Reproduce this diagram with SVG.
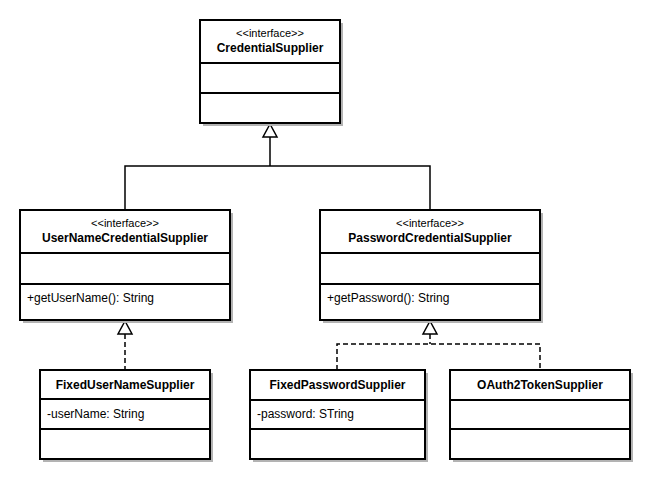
<svg xmlns="http://www.w3.org/2000/svg" width="658" height="488" viewBox="0 0 658 488">
<style>
.box{fill:#fff;stroke:#000;stroke-width:2}
.sh{fill:#b3b3b3}
.div{stroke:#000;stroke-width:2}
.st{font-family:"Liberation Sans",Arial,sans-serif;font-size:11px;fill:#000;text-anchor:middle}
.nm{font-family:"Liberation Sans",Arial,sans-serif;font-size:12px;font-weight:bold;fill:#000;text-anchor:middle}
.mb{font-family:"Liberation Sans",Arial,sans-serif;font-size:12px;fill:#000}
.ln{fill:none;stroke:#000;stroke-width:1.5}
.dash{stroke-dasharray:5,3}
.tri{fill:#fff;stroke:#000;stroke-width:1.5}
</style>
<rect width="658" height="488" fill="#fff"/>
<g id="connectors">
  <path class="ln" d="M270,137 V166 H125 V210 M270,166 H430 V210"/>
  <polygon class="tri" points="270,124 263,137 277,137"/>
  <path class="ln dash" d="M125,334 V370"/>
  <polygon class="tri" points="125,321 118,334 132,334"/>
  <path class="ln dash" d="M430,334 V344 M337,370 V344 H540 V370"/>
  <polygon class="tri" points="430,321 423,334 437,334"/>
</g>
<g id="CredentialSupplier">
  <rect class="sh" x="203" y="23" width="140" height="103"/>
  <rect class="box" x="200" y="20" width="140" height="103"/>
  <line class="div" x1="200" y1="63" x2="340" y2="63"/>
  <line class="div" x1="200" y1="93" x2="340" y2="93"/>
  <text class="st" x="270" y="37">&lt;&lt;interface&gt;&gt;</text>
  <text class="nm" x="270" y="52">CredentialSupplier</text>
</g>
<g id="UserNameCredentialSupplier">
  <rect class="sh" x="23" y="213" width="210" height="110"/>
  <rect class="box" x="20" y="210" width="210" height="110"/>
  <line class="div" x1="20" y1="253" x2="230" y2="253"/>
  <line class="div" x1="20" y1="284" x2="230" y2="284"/>
  <text class="st" x="125" y="227">&lt;&lt;interface&gt;&gt;</text>
  <text class="nm" x="125" y="242">UserNameCredentialSupplier</text>
  <text class="mb" x="27" y="302">+getUserName(): String</text>
</g>
<g id="PasswordCredentialSupplier">
  <rect class="sh" x="323" y="213" width="220" height="110"/>
  <rect class="box" x="320" y="210" width="220" height="110"/>
  <line class="div" x1="320" y1="253" x2="540" y2="253"/>
  <line class="div" x1="320" y1="284" x2="540" y2="284"/>
  <text class="st" x="430" y="227">&lt;&lt;interface&gt;&gt;</text>
  <text class="nm" x="430" y="242">PasswordCredentialSupplier</text>
  <text class="mb" x="327" y="302">+getPassword(): String</text>
</g>
<g id="FixedUserNameSupplier">
  <rect class="sh" x="43" y="373" width="170" height="89"/>
  <rect class="box" x="40" y="370" width="170" height="89"/>
  <line class="div" x1="40" y1="399" x2="210" y2="399"/>
  <line class="div" x1="40" y1="429" x2="210" y2="429"/>
  <text class="nm" x="125" y="389">FixedUserNameSupplier</text>
  <text class="mb" x="47" y="418">-userName: String</text>
</g>
<g id="FixedPasswordSupplier">
  <rect class="sh" x="253" y="373" width="175" height="89"/>
  <rect class="box" x="250" y="370" width="175" height="89"/>
  <line class="div" x1="250" y1="400" x2="425" y2="400"/>
  <line class="div" x1="250" y1="429" x2="425" y2="429"/>
  <text class="nm" x="337.5" y="389">FixedPasswordSupplier</text>
  <text class="mb" x="257" y="418">-password: STring</text>
</g>
<g id="OAuth2TokenSupplier">
  <rect class="sh" x="453" y="373" width="180" height="89"/>
  <rect class="box" x="450" y="370" width="180" height="89"/>
  <line class="div" x1="450" y1="400" x2="630" y2="400"/>
  <line class="div" x1="450" y1="429" x2="630" y2="429"/>
  <text class="nm" x="540" y="389">OAuth2TokenSupplier</text>
</g>
</svg>
